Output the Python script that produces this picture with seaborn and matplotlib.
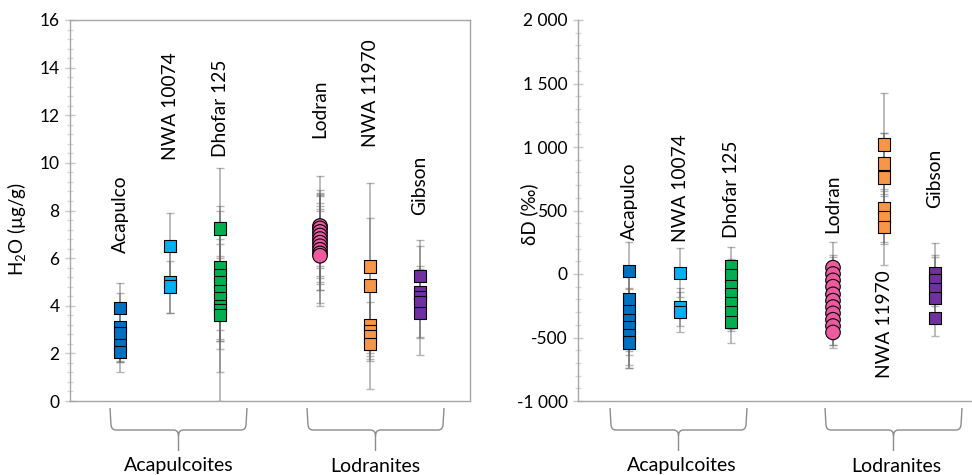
import numpy as np
import pandas as pd
import matplotlib
matplotlib.use("Agg")
import matplotlib.pyplot as plt
import seaborn as sns
from matplotlib.path import Path
from matplotlib.patches import PathPatch
from matplotlib.ticker import MultipleLocator, FuncFormatter

# ---------------- data ----------------
samples = ["Acapulco", "NWA 10074", "Dhofar 125", "Lodran", "NWA 11970", "Gibson"]
groups = ["Acapulcoites", "Lodranites"]

# H2O (µg/g): individual measurements and 1-sigma errors
h2o_acapulco = [3.9, 3.1, 2.85, 2.35, 2.05]
h2o_acapulco_err = [1.05, 1.45, 1.2, 0.65, 0.85]
h2o_nwa10074 = [6.5, 5.0, 4.8]
h2o_nwa10074_err = [1.4, 1.3, 1.1]
h2o_dhofar125 = [7.25, 5.6, 5.3, 5.0, 4.6, 4.3, 4.0, 3.8, 3.6]
h2o_dhofar125_err = [2.55, 2.6, 1.5, 2.5, 2.0, 1.8, 4.0, 1.6, 2.4]
h2o_lodran = [7.35, 7.25, 7.1, 6.95, 6.8, 6.65, 6.5, 6.35, 6.2, 6.1]
h2o_lodran_err = [2.1, 1.6, 1.5, 1.8, 1.9, 2.0, 1.5, 1.7, 2.1, 2.1]
h2o_nwa11970 = [5.65, 4.85, 3.2, 2.95, 2.7, 2.4]
h2o_nwa11970_err = [3.5, 2.85, 1.5, 1.2, 2.2, 0.5]
h2o_gibson = [5.25, 4.55, 4.35, 4.15, 3.7]
h2o_gibson_err = [1.25, 1.0, 2.4, 1.5, 1.0]

# δD (‰)
dd_acapulco = [25, -200, -290, -360, -420, -480, -540]
dd_acapulco_err = [225, 180, 350, 250, 300, 260, 200]
dd_nwa10074 = [10, -260, -300]
dd_nwa10074_err = [195, 150, 160]
dd_dhofar125 = [60, -10, -100, -160, -230, -300, -380]
dd_dhofar125_err = [155, 130, 200, 250, 200, 150, 160]
dd_lodran = [50, 0, -50, -100, -160, -210, -260, -310, -360, -410, -460]
dd_lodran_err = [200, 150, 180, 200, 150, 160, 180, 140, 200, 150, 120]
dd_nwa11970 = [1020, 870, 760, 520, 450, 370]
dd_nwa11970_err = [405, 240, 350, 280, 200, 300]
dd_gibson = [10, -50, -120, -190, -345]
dd_gibson_err = [235, 200, 250, 200, 145]

h2o_ticks = [0, 2, 4, 6, 8, 10, 12, 14, 16]
dd_ticks = [-1000, -500, 0, 500, 1000, 1500, 2000]

# ---------------- styling / layout ----------------
colors = {"Acapulco": "#0070C0", "NWA 10074": "#00B0F0", "Dhofar 125": "#00B050",
          "Lodran": "#EC5AA0", "NWA 11970": "#F79646", "Gibson": "#7030A0"}
markers = {s: ("o" if s == "Lodran" else "s") for s in samples}
msize = {s: (110 if s == "Lodran" else 80) for s in samples}
xpos = {"Acapulco": 1, "NWA 10074": 2, "Dhofar 125": 3,
        "Lodran": 5, "NWA 11970": 6, "Gibson": 7}

sns.set_theme(style="white")
plt.rcParams["font.family"] = ["Lato", "DejaVu Sans"]
plt.rcParams["mathtext.fontset"] = "custom"
plt.rcParams["mathtext.rm"] = "Lato"

W, H = 972, 475
fig = plt.figure(figsize=(W / 100, H / 100), dpi=100)

def px_axes(x0, x1, ytop, ybot):
    return fig.add_axes([x0 / W, 1 - ybot / H, (x1 - x0) / W, (ybot - ytop) / H])

ax1 = px_axes(70, 470, 20, 401)
ax2 = px_axes(578, 986, 20, 401)

SPINE = "#a6a6a6"
TICKC = "#c8c8c8"

def build(vals, errs):
    rows = []
    for s, v_list, e_list in zip(samples, vals, errs):
        for v, e in zip(v_list, e_list):
            rows.append({"sample": s, "x": xpos[s], "value": v, "err": e})
    return pd.DataFrame(rows)

def draw_panel(ax, df):
    for s, g in df.groupby("sample", sort=False):
        ax.errorbar(g["x"], g["value"], yerr=g["err"], fmt="none",
                    ecolor="#6e6e6e", alpha=0.5, elinewidth=1.3,
                    capsize=3.0, capthick=1.0, zorder=2)
    sns.scatterplot(data=df, x="x", y="value", hue="sample", style="sample",
                    size="sample", sizes=msize,
                    palette=colors, markers=markers, edgecolor="black",
                    linewidth=0.8, legend=False, ax=ax, zorder=3)
    ax.set_xlim(0, 8)
    ax.set_xticks([])
    ax.set_xlabel("")
    for sp in ax.spines.values():
        sp.set_color(SPINE)
        sp.set_linewidth(1.0)
    ax.tick_params(axis="y", which="major", direction="inout", length=7,
                   width=1, color=TICKC, labelsize=12.5, pad=4, left=True, labelcolor="black")
    ax.tick_params(axis="y", which="minor", direction="inout", length=5,
                   width=0.9, color="#d6d6d6", left=True)

df1 = build([h2o_acapulco, h2o_nwa10074, h2o_dhofar125, h2o_lodran, h2o_nwa11970, h2o_gibson],
            [h2o_acapulco_err, h2o_nwa10074_err, h2o_dhofar125_err, h2o_lodran_err,
             h2o_nwa11970_err, h2o_gibson_err])
df2 = build([dd_acapulco, dd_nwa10074, dd_dhofar125, dd_lodran, dd_nwa11970, dd_gibson],
            [dd_acapulco_err, dd_nwa10074_err, dd_dhofar125_err, dd_lodran_err,
             dd_nwa11970_err, dd_gibson_err])

draw_panel(ax1, df1)
ax1.set_ylim(0, 16)
ax1.set_yticks(h2o_ticks)
ax1.yaxis.set_minor_locator(MultipleLocator(0.4))
ax1.set_ylabel(r"H$_\mathregular{2}$O (µg/g)", fontsize=13.5, color="black")
ax1.yaxis.set_label_coords((29 - 70) / 400, 0.45)

draw_panel(ax2, df2)
ax2.set_ylim(-1000, 2000)
ax2.set_yticks(dd_ticks)
ax2.yaxis.set_minor_locator(MultipleLocator(100))
ax2.yaxis.set_major_formatter(FuncFormatter(lambda v, p: f"{int(v):,}".replace(",", " ")))
ax2.spines["top"].set_visible(False)
ax2.set_ylabel("δD (‰)", fontsize=13.5, color="black")
ax2.yaxis.set_label_coords((538 - 578) / 408, 0.49)

# sample labels (rotated)
lab1 = {"Acapulco": (6.2, "bottom"), "NWA 10074": (10.1, "bottom"), "Dhofar 125": (10.25, "bottom"),
        "Lodran": (11.05, "bottom"), "NWA 11970": (10.65, "bottom"), "Gibson": (7.8, "bottom")}
lab2 = {"Acapulco": (270, "bottom"), "NWA 10074": (250, "bottom"), "Dhofar 125": (285, "bottom"),
        "Lodran": (320, "bottom"), "NWA 11970": (30, "top"), "Gibson": (520, "bottom")}
for ax, lab in ((ax1, lab1), (ax2, lab2)):
    for s in samples:
        y, va = lab[s]
        ax.text(xpos[s], y, s, rotation=90, ha="center", va=va, fontsize=13.8, color="black")

# group braces + labels (overlay in pixel coordinates)
ov = fig.add_axes([0, 0, 1, 1])
ov.set_xlim(0, W)
ov.set_ylim(H, 0)
ov.axis("off")
ov.patch.set_visible(False)

def brace(x0, x1, ytop=408, ymid=430, ytip=451):
    xc = (x0 + x1) / 2
    verts = [(x0, ytop), (x0 + 1, ymid - 5), (x0 + 1.5, ymid), (x0 + 6, ymid),
             (xc - 5, ymid), (xc, ymid), (xc, ymid + 6), (xc, ytip),
             (xc, ymid + 6), (xc, ymid), (xc + 5, ymid),
             (x1 - 6, ymid), (x1 - 1.5, ymid), (x1 - 1, ymid - 5), (x1, ytop)]
    codes = [Path.MOVETO, Path.LINETO, Path.CURVE3, Path.CURVE3,
             Path.LINETO, Path.CURVE3, Path.CURVE3, Path.LINETO,
             Path.MOVETO, Path.CURVE3, Path.CURVE3,
             Path.LINETO, Path.CURVE3, Path.CURVE3, Path.LINETO]
    ov.add_patch(PathPatch(Path(verts, codes), fill=False, edgecolor="#8c8c8c", lw=1.0))
    return xc

for (a, b), g in zip([(110, 247), (307, 444)], groups):
    xc = brace(a, b)
    ov.text(xc, 466, g, ha="center", va="center", fontsize=14, color="black")
for (a, b), g in zip([(610, 747), (825, 962)], groups):
    xc = brace(a, b)
    ov.text(xc + 3, 466, g, ha="center", va="center", fontsize=14, color="black")

fig.savefig("out.png", dpi=100, facecolor="white")
